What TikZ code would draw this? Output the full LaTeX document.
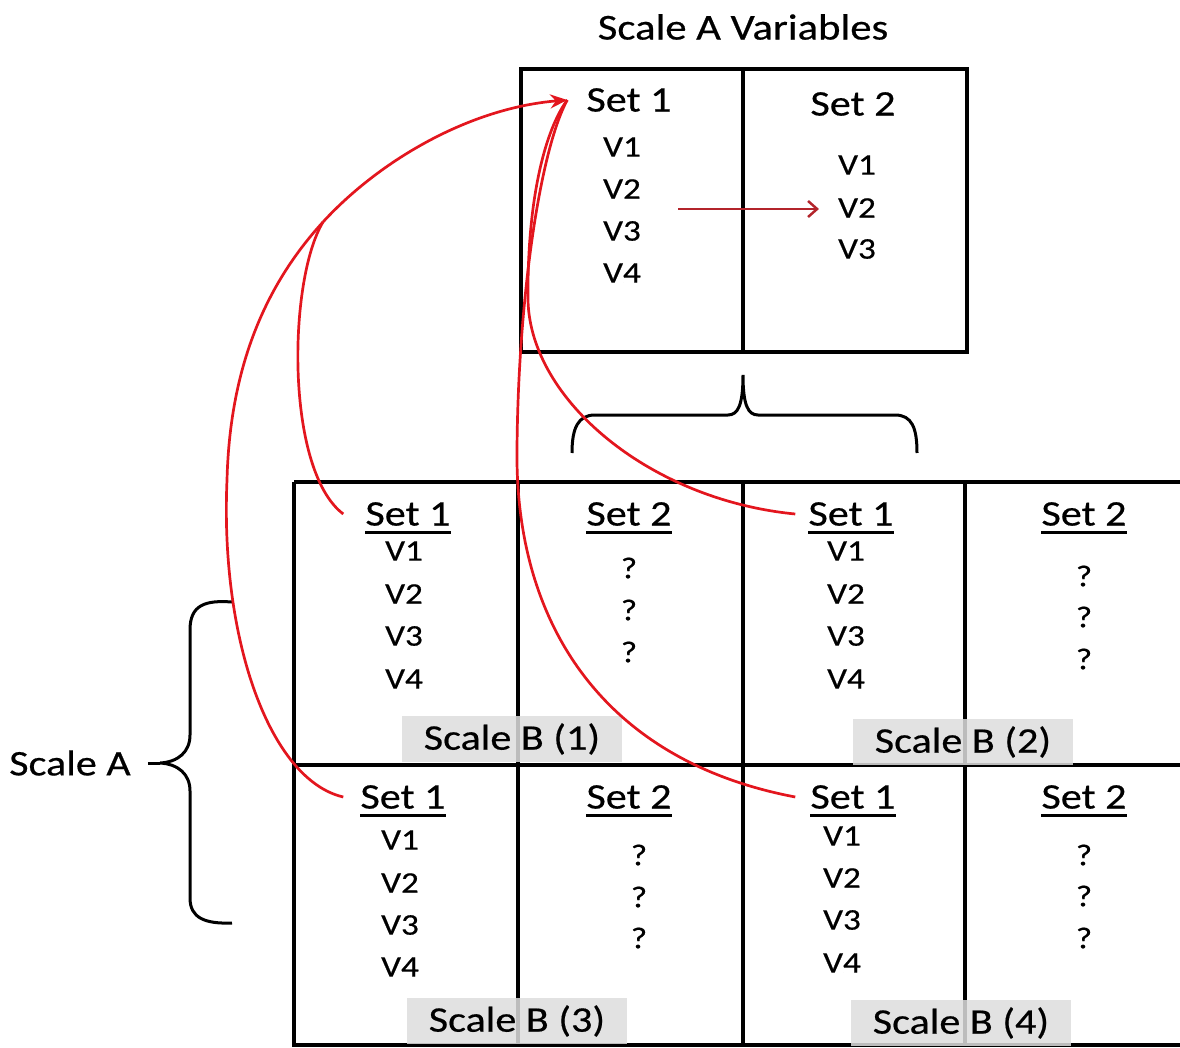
\documentclass[tikz,border=0pt]{standalone}
\usepackage{fontspec}
\setmainfont[FakeStretch=1.17, FakeBold=0.5]{Carlito}
\usetikzlibrary{arrows.meta}
\definecolor{linkred}{HTML}{E3161E}
\definecolor{darkarrow}{HTML}{B3242B}
\begin{document}
\begin{tikzpicture}[x=1pt,y=-1pt,
  gridline/.style={line width=4pt},
  bracepath/.style={line width=3pt},
  hdr/.style={font=\fontsize{36}{40}\selectfont, inner sep=0pt},
  var/.style={font=\fontsize{30}{36}\selectfont, inner sep=0pt},
  tag/.style={font=\fontsize{36}{40}\selectfont, inner xsep=22pt, inner ysep=7pt,
              fill=gray!27, fill opacity=0.85, text opacity=1},
  link/.style={draw=linkred, line width=2.7pt},
  ulrule/.style={line width=3pt},
]
\useasboundingbox (0,0) rectangle (1180,1048);
\clip (0,0) rectangle (1180,1048);

% title
\node[font=\fontsize{36.5}{40}\selectfont, inner sep=0pt] (title) at (743,27) {Scale A Variables};

% upper two-column box
\draw[gridline] (521,69) rectangle (967,352);
\draw[gridline] (743,69) -- (743,352);
\node[hdr] (ts1) at (629,100) {Set 1};
\node[var] (ta1) at (622,147) {V1};
\node[var] (ta2) at (622,189) {V2};
\node[var] (ta3) at (622,231) {V3};
\node[var] (ta4) at (622,273) {V4};
\node[hdr] (ts2) at (853,104) {Set 2};
\node[var] (tb1) at (857,165) {V1};
\node[var] (tb2) at (857,208) {V2};
\node[var] (tb3) at (857,249) {V3};
\coordinate (flowstart) at (678,209);
\draw[darkarrow, line width=2.5pt, -{Straight Barb[length=9pt,width=16pt]}, shorten >=19pt]
  (flowstart) -- (flowstart -| tb2.west);

% brace under the upper box
\draw[bracepath] (572,453) .. controls (572,428) and (578,415) .. (595,415) -- (728,415)
  .. controls (738,415) and (743,405) .. (743,375)
  .. controls (743,405) and (748,415) .. (758,415) -- (895,415)
  .. controls (912,415) and (917,428) .. (917,453);

% lower grid
\draw[gridline] (294,482) -- (1190,482);
\draw[gridline] (294,765) -- (1190,765);
\draw[gridline] (294,1045) -- (1190,1045);
\draw[gridline] (294,482) -- (294,1047);
\draw[gridline] (518,482) -- (518,1047);
\draw[gridline] (743,482) -- (743,1047);
\draw[gridline] (965,482) -- (965,1047);

% cell 1
\node[hdr] (c1s1) at (408,514) {Set 1};
\node[var] (c1a1) at (404,551) {V1};
\node[var] (c1a2) at (404,594) {V2};
\node[var] (c1a3) at (404,636) {V3};
\node[var] (c1a4) at (404,679) {V4};
\node[hdr] (c1s2) at (629,514) {Set 2};
\node[var] (c1q1) at (629,568) {?};
\node[var] (c1q2) at (629,610) {?};
\node[var] (c1q3) at (629,652) {?};
\node[tag] (c1tag) at (512,739) {Scale B (1)};

% cell 2
\node[hdr] (c2s1) at (851,514) {Set 1};
\node[var] (c2a1) at (846,551) {V1};
\node[var] (c2a2) at (846,594) {V2};
\node[var] (c2a3) at (846,636) {V3};
\node[var] (c2a4) at (846,679) {V4};
\node[hdr] (c2s2) at (1084,514) {Set 2};
\node[var] (c2q1) at (1084,576) {?};
\node[var] (c2q2) at (1084,617) {?};
\node[var] (c2q3) at (1084,659) {?};
\node[tag] (c2tag) at (963,742) {Scale B (2)};

% cell 3
\node[hdr] (c3s1) at (403,797) {Set 1};
\node[var] (c3a1) at (400,840) {V1};
\node[var] (c3a2) at (400,883) {V2};
\node[var] (c3a3) at (400,925) {V3};
\node[var] (c3a4) at (400,967) {V4};
\node[hdr] (c3s2) at (629,797) {Set 2};
\node[var] (c3q1) at (639,855) {?};
\node[var] (c3q2) at (639,897) {?};
\node[var] (c3q3) at (639,938) {?};
\node[tag] (c3tag) at (517,1021) {Scale B (3)};

% cell 4
\node[hdr] (c4s1) at (853,797) {Set 1};
\node[var] (c4a1) at (842,836) {V1};
\node[var] (c4a2) at (842,878) {V2};
\node[var] (c4a3) at (842,920) {V3};
\node[var] (c4a4) at (842,963) {V4};
\node[hdr] (c4s2) at (1084,797) {Set 2};
\node[var] (c4q1) at (1084,855) {?};
\node[var] (c4q2) at (1084,896) {?};
\node[var] (c4q3) at (1084,938) {?};
\node[tag] (c4tag) at (961,1023) {Scale B (4)};

% underlined set headings
\foreach \n in {c1s1,c1s2,c2s1,c2s2,c3s1,c3s2,c4s1,c4s2}
  \draw[ulrule] ([yshift=-7pt]\n.base west) -- ([yshift=-7pt]\n.base east);

% left brace with its label
\node[font=\fontsize{36}{40}\selectfont, inner sep=0pt] (scalea) at (70,763) {Scale A};
\coordinate (atip) at (160,763);
\draw[bracepath] (232,602) .. controls (205,600) and (190,605) .. (190,630) -- (190,735)
  .. controls (190,752) and (178,762) .. (atip)
  .. controls (178,764) and (190,774) .. (190,791) -- (190,898)
  .. controls (190,918) and (205,924) .. (232,923);
\draw[bracepath] ([xshift=17pt]scalea.east) -- (atip);

% red links from every lower Set 1 to the upper Set 1
\coordinate (hit) at ([xshift=-19pt]ts1.west);
\coordinate (merge) at (323,222);
\draw[link] ([xshift=-22pt]c1s1.west) .. controls (285,470) and (288,280) .. (merge);
\draw[link] ([xshift=-17pt]c3s1.west) .. controls (270,780) and (220,640) .. (227,480)
  .. controls (230,360) and (270,280) .. (merge);
\draw[link, -{Stealth[length=17pt,width=14pt]}] (merge) .. controls (380,160) and (470,108) .. (hit);
\draw[link] ([xshift=-13pt]c2s1.west) .. controls (650,500) and (530,400) .. (528,300)
  .. controls (527,200) and (545,130) .. (hit);
\draw[link] ([xshift=-15pt]c4s1.west) .. controls (600,760) and (515,620) .. (517,450)
  .. controls (518,300) and (540,150) .. (hit);
\end{tikzpicture}
\end{document}
